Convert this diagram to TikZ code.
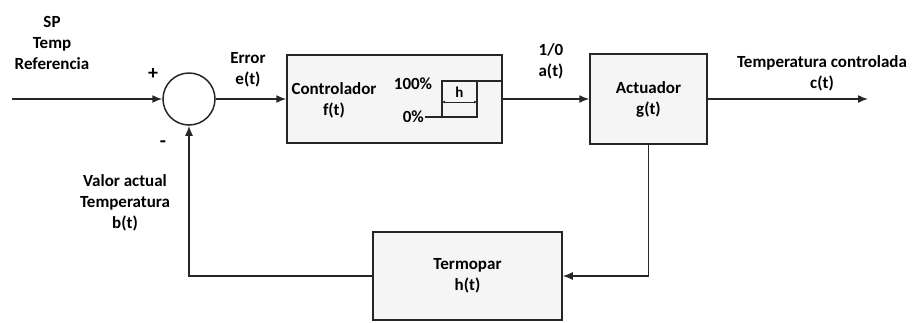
\documentclass[tikz,border=0pt]{standalone}
\usepackage{fontspec}
\setmainfont{Carlito}
\usetikzlibrary{arrows.meta,positioning}
\tikzset{
  blockbox/.style={draw=black!85, fill=black!4, line width=1.5pt, align=center, inner sep=0pt, font=\bfseries\fontsize{17}{21}\selectfont},
  sumnode/.style={circle, draw=black!85, line width=1.5pt, minimum size=52pt, inner sep=0pt},
  lbl/.style={align=center, inner sep=0pt, font=\bfseries\fontsize{17}{21}\selectfont},
  arrow/.style={-{Latex[length=10pt,width=8pt]}, line width=1.5pt, draw=black!85},
  wire/.style={line width=1.4pt, draw=black!85},
  harrow/.style={{Latex[length=3pt,width=3pt]}-{Latex[length=3pt,width=3pt]}, line width=1pt, draw=black!85}
}
\begin{document}
\begin{tikzpicture}[x=1pt, y=-1pt]
\useasboundingbox (0,0) rectangle (918,322);
% blocks
\node[sumnode] (sum) at (189,99) {};
\node[blockbox, minimum width=215pt, minimum height=88pt] (ctrl) at (394.5,99) {};
\node[blockbox, minimum width=117pt, minimum height=90pt] (act) at (648.5,99) {Actuador\\g(t)};
\node[blockbox, minimum width=189pt, minimum height=88pt] (sensor) at (467.5,276) {Termopar\\h(t)};
% inside the controller
\node[lbl] (ctrltxt) at (334,100) {Controlador\\f(t)};
\coordinate (hystl) at (442,81);
\coordinate (hystr) at (477,117);
\draw[wire] (hystl) rectangle (hystr);
\draw[wire] (hystr |- hystl) -- (ctrl.east |- hystl);
\coordinate (zero) at (425,117);
\draw[wire] (zero) -- (hystl |- hystr);
\draw[harrow] (442,102) -- (477,102);
\node[lbl, font=\bfseries\fontsize{15}{17}\selectfont] (hlbl) at (459.5,92) {h};
\node[lbl] (full) at (413,84) {100\%};
\node[lbl, left=1pt of zero] (empty) {0\%};
% signals
\coordinate (ref) at (12,99);
\coordinate (out) at (868,99);
\draw[arrow] (ref) -- (sum.west);
\draw[arrow] (sum.east) -- (ctrl.west);
\draw[arrow] (ctrl.east) -- (act.west);
\draw[arrow] (act.east) -- (out);
\draw[arrow] (act.south) |- (sensor.east);
\draw[arrow] (sensor.west) -| (sum.south);
% labels
\node[lbl] (reflbl) at (52,43) {SP\\Temp\\Referencia};
\node[lbl, font=\bfseries\fontsize{20}{22}\selectfont] (plus) at (153,74) {+};
\node[lbl, font=\bfseries\fontsize{20}{22}\selectfont] (minus) at (163,144) {-};
\node[lbl] (errlbl) at (248,70) {Error\\e(t)};
\node[lbl] (alabel) at (551,61) {1/0\\a(t)};
\node[lbl] (outlbl) at (822,73) {Temperatura controlada\\c(t)};
\node[lbl] (fblbl) at (125,203) {Valor actual\\Temperatura\\b(t)};
\end{tikzpicture}
\end{document}
